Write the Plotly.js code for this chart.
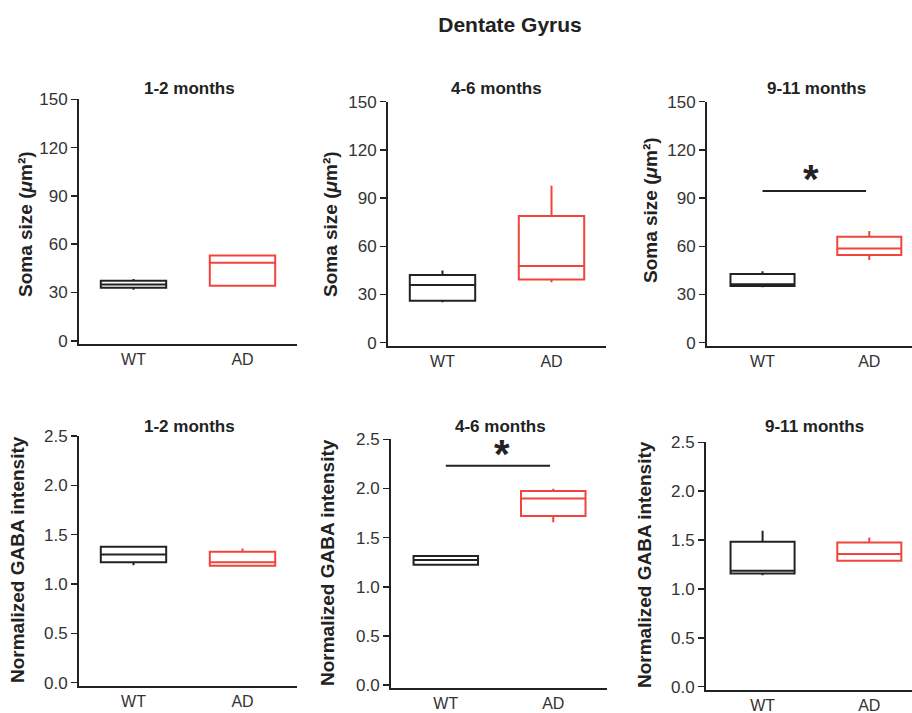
<!DOCTYPE html>
<html>
<head>
<meta charset="utf-8">
<script src="https://cdn.plot.ly/plotly-3.0.1.min.js"></script>
<style>html,body{margin:0;padding:0;background:#fff;}#chart{width:912px;height:713px;}</style>
</head>
<body>
<div id="chart"></div>
<script>
// ---------- DATA ----------
const categories = ['WT', 'AD'];
const panelTitles = ['1-2 months', '4-6 months', '9-11 months'];
const somaTicks = [0, 30, 60, 90, 120, 150];
const gabaTicks = [0, 0.5, 1, 1.5, 2, 2.5];
const gabaTickText = ['0.0', '0.5', '1.0', '1.5', '2.0', '2.5'];

// Soma size (µm²), one value per age panel
const somaWT_lower  = [31.7, 25.1, 34.5];
const somaWT_q1     = [33.0, 26.1, 35.3];
const somaWT_median = [35.0, 35.9, 36.3];
const somaWT_q3     = [37.3, 42.1, 42.7];
const somaWT_upper  = [38.3, 45.0, 44.4];
const somaAD_lower  = [34.2, 37.6, 51.5];
const somaAD_q1     = [34.2, 39.4, 54.6];
const somaAD_median = [48.5, 47.7, 58.7];
const somaAD_q3     = [53.0, 78.8, 66.0];
const somaAD_upper  = [53.0, 97.7, 69.5];

// Normalized GABA intensity
const gabaWT_lower  = [1.19, 1.22, 1.14];
const gabaWT_q1     = [1.22, 1.224, 1.159];
const gabaWT_median = [1.30, 1.272, 1.186];
const gabaWT_q3     = [1.378, 1.312, 1.483];
const gabaWT_upper  = [1.378, 1.312, 1.595];
const gabaAD_lower  = [1.175, 1.655, 1.289];
const gabaAD_q1     = [1.186, 1.719, 1.289];
const gabaAD_median = [1.22, 1.899, 1.357];
const gabaAD_q3     = [1.327, 1.974, 1.476];
const gabaAD_upper  = [1.36, 1.997, 1.527];

// significance bars: panel index 1..6 and level
const sigPanels = [3, 5];
const sigLevels = [94.4, 2.23];
const sigLabels = ['*', '*'];

// ---------- STYLE / LAYOUT ----------
const W = 912, H = 713;
const FONT = '"Liberation Sans", Arial, Helvetica, sans-serif';
const BLACK = '#222222';
const RED = '#f0443c';
const px = x => x / W;
const py = y => 1 - y / H;

// pixel boxes of plot areas [left, right, top, bottom] and x ranges
const boxes = [
  [79, 297, 99.3, 344.0, [-0.5, 1.5]],
  [388, 606, 101.7, 345.9, [-0.5, 1.5]],
  [707, 912, 101.7, 345.9, [-0.52, 1.4]],
  [79, 297, 436.0, 685.6, [-0.5, 1.5]],
  [391, 607, 439.3, 688.0, [-0.51, 1.5]],
  [706, 912, 442.3, 689.6, [-0.53, 1.4]]
];
const titlePos = [[189, 88], [497, 88], [816, 88], [189, 427], [500, 427], [814, 427]];
const yTitlePos = [[25, 224], [330, 224], [650, 210], [17, 560], [327, 563], [644, 565]];
const starX = [0.45, 0.52];

const traces = [];
const layout = {
  width: W, height: H,
  margin: {l: 0, r: 0, t: 0, b: 0},
  paper_bgcolor: '#fff', plot_bgcolor: '#fff',
  showlegend: false,
  boxmode: 'overlay',
  font: {family: FONT, color: BLACK},
  title: {text: '<b>Dentate Gyrus</b>', x: px(510), y: py(25), xanchor: 'center', yanchor: 'middle',
          font: {family: FONT, size: 21, color: BLACK}},
  annotations: [],
  shapes: []
};

function addBox(i, name, color, lo, q1, med, q3, hi) {
  const ax = i === 0 ? '' : String(i + 1);
  traces.push({
    type: 'box', x: [name], lowerfence: [lo], q1: [q1], median: [med], q3: [q3], upperfence: [hi],
    xaxis: 'x' + ax, yaxis: 'y' + ax,
    width: 0.6, whiskerwidth: 0, boxpoints: false,
    line: {color: color, width: 2}, fillcolor: 'rgba(255,255,255,1)',
    hoverinfo: 'skip'
  });
}

for (let p = 0; p < 6; p++) {
  const isSoma = p < 3;
  const k = p % 3;
  const [l, r, t, b, xr] = boxes[p];
  const ax = p === 0 ? '' : String(p + 1);
  if (isSoma) {
    addBox(p, categories[0], BLACK, somaWT_lower[k], somaWT_q1[k], somaWT_median[k], somaWT_q3[k], somaWT_upper[k]);
    addBox(p, categories[1], RED, somaAD_lower[k], somaAD_q1[k], somaAD_median[k], somaAD_q3[k], somaAD_upper[k]);
  } else {
    addBox(p, categories[0], BLACK, gabaWT_lower[k], gabaWT_q1[k], gabaWT_median[k], gabaWT_q3[k], gabaWT_upper[k]);
    addBox(p, categories[1], RED, gabaAD_lower[k], gabaAD_q1[k], gabaAD_median[k], gabaAD_q3[k], gabaAD_upper[k]);
  }
  layout['xaxis' + ax] = {
    domain: [px(l), px(r)], anchor: 'y' + ax,
    type: 'category', categoryorder: 'array', categoryarray: categories,
    range: xr, showgrid: false, zeroline: false,
    showline: true, linecolor: BLACK, linewidth: 2,
    ticks: '', ticklabelstandoff: 0, tickfont: {family: FONT, size: 16, color: '#333'},
    fixedrange: true
  };
  layout['yaxis' + ax] = {
    domain: [py(b), py(t)], anchor: 'x' + ax,
    range: isSoma ? [-2, 150] : [-0.03, 2.5],
    tickvals: isSoma ? somaTicks : gabaTicks,
    ticktext: isSoma ? somaTicks.map(String) : gabaTickText,
    showgrid: false, zeroline: false,
    showline: true, linecolor: BLACK, linewidth: 2,
    ticks: 'outside', ticklen: 6, tickwidth: 1.5, tickcolor: BLACK,
    tickfont: {family: FONT, size: 17, color: '#333'},
    fixedrange: true
  };
  layout.annotations.push({
    text: '<b>' + panelTitles[k] + '</b>', xref: 'paper', yref: 'paper',
    x: px(titlePos[p][0]), y: py(titlePos[p][1]), xanchor: 'center', yanchor: 'middle',
    showarrow: false, font: {family: FONT, size: 17, color: BLACK}
  });
  layout.annotations.push({
    text: isSoma ? '<b>Soma size (<i>μ</i>m²)</b>' : '<b>Normalized GABA intensity</b>',
    xref: 'paper', yref: 'paper', textangle: -90,
    x: px(yTitlePos[p][0]), y: py(yTitlePos[p][1]), xanchor: 'center', yanchor: 'middle',
    showarrow: false, font: {family: FONT, size: 19, color: BLACK}
  });
}

for (let s = 0; s < sigPanels.length; s++) {
  const p = sigPanels[s];
  const ax = p === 1 ? '' : String(p);
  layout.shapes.push({
    type: 'line', xref: 'x' + ax, yref: 'y' + ax,
    x0: 0, x1: 0.97, y0: sigLevels[s], y1: sigLevels[s],
    line: {color: BLACK, width: 2}
  });
  layout.annotations.push({
    text: '<b>' + sigLabels[s] + '</b>', xref: 'x' + ax, yref: 'y' + ax,
    x: starX[s], y: sigLevels[s], xanchor: 'center', yanchor: 'bottom', yshift: -12,
    showarrow: false, font: {family: FONT, size: 40, color: BLACK}
  });
}

Plotly.newPlot('chart', traces, layout, {displayModeBar: false, staticPlot: true});
</script>
</body>
</html>
